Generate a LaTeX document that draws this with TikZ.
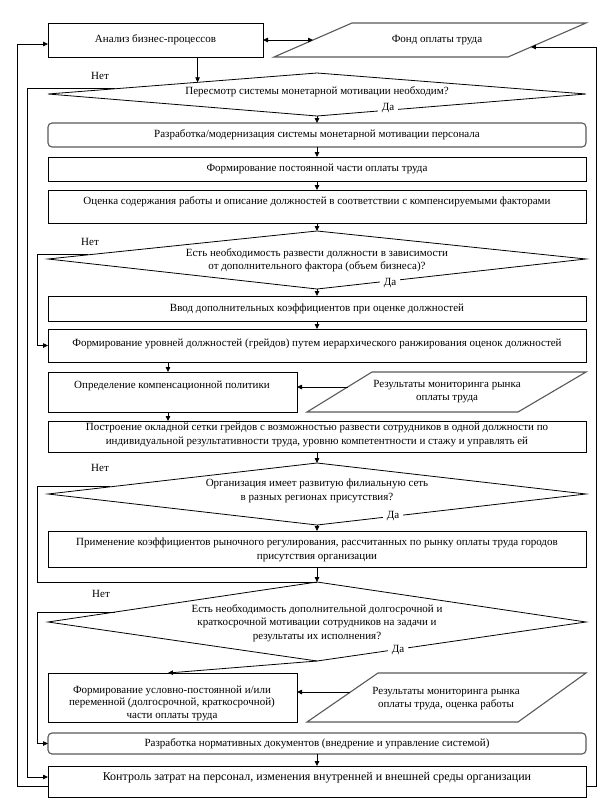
\documentclass[tikz,border=0pt]{standalone}
\usepackage{fontspec}
\setmainfont{Liberation Serif}
\usetikzlibrary{arrows.meta,calc}
\begin{document}
\begin{tikzpicture}[x=1pt,y=-1pt,line width=0.8pt,
  arr/.style={-{Triangle[length=5pt,width=4.5pt]}},
  darr/.style={{Triangle[length=5pt,width=4.5pt]}-{Triangle[length=5pt,width=4.5pt]}},
  box/.style={draw,rectangle,inner sep=0pt,outer sep=0pt,anchor=north west},
  rbox/.style={box,rounded corners=4pt,draw=black!65,line width=1.1pt},
  shp/.style={draw=black!65,line width=1.1pt},
  dia/.style={draw,line width=0.8pt},
  lbl/.style={inner sep=0pt,font=\fontsize{11}{13.5}\selectfont,align=center},
  ans/.style={inner sep=0pt,font=\fontsize{11}{12}\selectfont},
  yes/.style={ans,fill=white,inner xsep=4pt,inner ysep=2pt}]
\useasboundingbox (0,0) rectangle (606,809);
\fill[white] (0,0) rectangle (606,809);

% guide columns
\coordinate (xa) at (17,0);
\coordinate (xb) at (27,0);
\coordinate (xc) at (37,0);
\coordinate (xq) at (168,0);
\coordinate (xr) at (596,0);

% top row
\node[box,minimum width=215pt,minimum height=34pt] (b1) at (48,23) {};
\node[lbl] (t1) at (155.5,40) {Анализ бизнес-процессов};
\coordinate (p1bl) at (274,57);
\coordinate (p1tl) at (352,23);
\coordinate (p1tr) at (586,23);
\coordinate (p1br) at (508,57);
\draw[shp] (p1bl) -- (p1tl) -- (p1tr) -- (p1br) -- cycle;
\node[lbl] (tp1) at (437,40) {Фонд оплаты труда};
\coordinate (p1l) at ($(p1bl)!0.5!(p1tl)$);
\coordinate (p1r) at ($(p1tr)!0.706!(p1br)$);

% diamond 1
\coordinate (d1n) at (317,73);
\coordinate (d1w) at (48,94);
\coordinate (d1e) at (586,94);
\coordinate (d1s) at (317,116);
\draw[dia] (d1n) -- (d1e) -- (d1s) -- (d1w) -- cycle;
\node[lbl] (td1) at (317,92) {Пересмотр системы монетарной мотивации необходим?};
\coordinate (d1a) at ($(d1w)!0.556!(d1n)$);
\coordinate (d1x) at ($(d1w)!0.25!(d1n)$);

% boxes
\node[rbox,minimum width=538pt,minimum height=24pt] (b2) at (48,123) {};
\node[lbl] (t2) at (317,135) {Разработка/модернизация системы монетарной мотивации персонала};
\node[box,minimum width=538pt,minimum height=24pt] (b3) at (48,157) {};
\node[lbl] (t3) at (317,169) {Формирование постоянной части оплаты труда};
\node[box,minimum width=538pt,minimum height=33pt] (b4) at (48,190) {};
\node[lbl] (t4) at (317,202) {Оценка содержания работы и описание должностей в соответствии с компенсируемыми факторами};

% diamond 2
\coordinate (d2n) at (317,231);
\coordinate (d2w) at (48,259);
\coordinate (d2e) at (586,259);
\coordinate (d2s) at (317,289);
\draw[dia] (d2n) -- (d2e) -- (d2s) -- (d2w) -- cycle;
\node[lbl] (td2) at (317,260) {Есть необходимость развести должности в зависимости\\от дополнительного фактора (объем бизнеса)?};
\coordinate (d2x) at ($(d2w)!0.15!(d2n)$);

\node[box,minimum width=538pt,minimum height=25pt] (b5) at (48,296) {};
\node[lbl] (t5) at (317,309) {Ввод дополнительных коэффициентов при оценке должностей};
\node[box,minimum width=538pt,minimum height=33pt] (b6) at (48,329) {};
\node[lbl] (t6) at (317,344) {Формирование уровней должностей (грейдов) путем иерархического ранжирования оценок должностей};

\node[box,minimum width=249pt,minimum height=40pt] (b7) at (48,372) {};
\node[lbl] (t7) at (172,386) {Определение компенсационной политики};
\coordinate (p2bl) at (307,412);
\coordinate (p2tl) at (372,372);
\coordinate (p2tr) at (586,372);
\coordinate (p2br) at (518,412);
\draw[shp] (p2bl) -- (p2tl) -- (p2tr) -- (p2br) -- cycle;
\node[lbl] (tp2) at (447,391.5) {Результаты мониторинга рынка\\оплаты труда};
\coordinate (p2l) at ($(p2bl)!0.625!(p2tl)$);

\node[box,minimum width=538pt,minimum height=31pt] (b8) at (48,421) {};
\node[lbl] (t8) at (317,435) {Построение окладной сетки грейдов с возможностью развести сотрудников в одной должности по\\индивидуальной результативности труда, уровню компетентности и стажу и управлять ей};

% diamond 3
\coordinate (d3n) at (317,463);
\coordinate (d3w) at (48,494);
\coordinate (d3e) at (586,494);
\coordinate (d3s) at (317,525);
\draw[dia] (d3n) -- (d3e) -- (d3s) -- (d3w) -- cycle;
\node[lbl] (td3) at (317,491) {Организация имеет развитую филиальную сеть\\в разных регионах присутствия?};
\coordinate (d3x) at ($(d3w)!0.23!(d3n)$);

\node[box,minimum width=538pt,minimum height=36pt] (b9) at (48,531) {};
\node[lbl] (t9) at (317,550) {Применение коэффициентов рыночного регулирования, рассчитанных по рынку оплаты труда городов\\присутствия организации};

% diamond 4
\coordinate (d4n) at (317,582);
\coordinate (d4w) at (48,622);
\coordinate (d4e) at (586,622);
\coordinate (d4s) at (317,661);
\draw[dia] (d4n) -- (d4e) -- (d4s) -- (d4w) -- cycle;
\node[lbl] (td4) at (317,623) {Есть необходимость дополнительной долгосрочной и\\краткосрочной мотивации сотрудников на задачи и\\результаты их исполнения?};
\coordinate (d4x) at ($(d4w)!0.25!(d4n)$);

\node[box,minimum width=249pt,minimum height=49pt] (b10) at (48,673) {};
\node[lbl,font=\fontsize{11}{12.5}\selectfont] (t10) at (172,703) {Формирование условно-постоянной и/или\\переменной (долгосрочной, краткосрочной)\\части оплаты труда};
\coordinate (p3bl) at (307,722);
\coordinate (p3tl) at (378,673);
\coordinate (p3tr) at (586,673);
\coordinate (p3br) at (518,722);
\draw[shp] (p3bl) -- (p3tl) -- (p3tr) -- (p3br) -- cycle;
\node[lbl] (tp3) at (446,698.5) {Результаты мониторинга рынка\\оплаты труда, оценка работы};
\coordinate (p3l) at ($(p3bl)!0.612!(p3tl)$);

\node[rbox,minimum width=538pt,minimum height=21pt] (b11) at (48,733) {};
\node[lbl] (t11) at (317,744) {Разработка нормативных документов (внедрение и управление системой)};
\node[box,minimum width=538pt,minimum height=31pt] (bb) at (48,766) {};
\node[lbl,font=\fontsize{12}{14}\selectfont] (tbb) at (317,778) {Контроль затрат на персонал, изменения внутренней и внешней среды организации};

% helper points
\coordinate (b1L) at ($(b1.north west)+(0,21)$);
\coordinate (bbL) at ($(bb.south west)+(0,-11)$);
\coordinate (bbR) at ($(bb.south east)+(0,-11)$);
\coordinate (bbA) at ($(bb.north west)+(0,11)$);

% labels
\node[ans] (n1) at (100,76) {Нет};
\node[ans] (n2) at (90,242) {Нет};
\node[ans] (n3) at (100,468) {Нет};
\node[ans] (n4) at (101,594) {Нет};

% connectors
\draw[darr] (b1.east) -- (p1l);
\draw[arr] (bbL) -| (xa |- b1L) -- (b1L);
\draw[arr] (bbR) -| (xr |- p1r) -- (p1r);
\draw[arr] (b1.south -| d1a) -- (d1a);
\draw[arr] (d1s) -- (d1s |- b2.north);
\draw[arr] (d1x) -- (d1x -| xb) |- (bbA);
\draw[arr] (b2.south) -- (b3.north);
\draw[arr] (b3.south) -- (b4.north);
\draw[arr] (b4.south) -- (d2n);
\draw[arr] (d2x) -- (d2x -| xc) |- (b6.west);
\draw[arr] (d2s) -- (b5.north);
\draw[arr] (b5.south) -- (b6.north);
\draw[arr] (b6.south -| xq) -- (b7.north -| xq);
\draw[arr] (p2l) -- (p2l -| b7.east);
\draw[arr] (b7.south -| xq) -- (b8.north -| xq);
\draw[arr] (b8.south) -- (d3n);
\draw[arr] (d3s) -- (b9.north);
\draw (d3x) -- (d3x -| xc) |- (d4n);
\draw[arr] (b9.south) -- (d4n);
\draw[arr] (d4s) -- (b10.north -| xq);
\draw[arr] (d4x) -- (d4x -| xc) |- (b11.west);
\draw[arr] (p3l) -- (p3l -| b10.east);
\draw[arr] (b11.south) -- (bb.north);

% yes labels
\node[yes] (y1) at (388,108) {Да};
\node[yes] (y2) at (390,283) {Да};
\node[yes] (y3) at (393,516) {Да};
\node[yes] (y4) at (398,650) {Да};
\end{tikzpicture}
\end{document}
